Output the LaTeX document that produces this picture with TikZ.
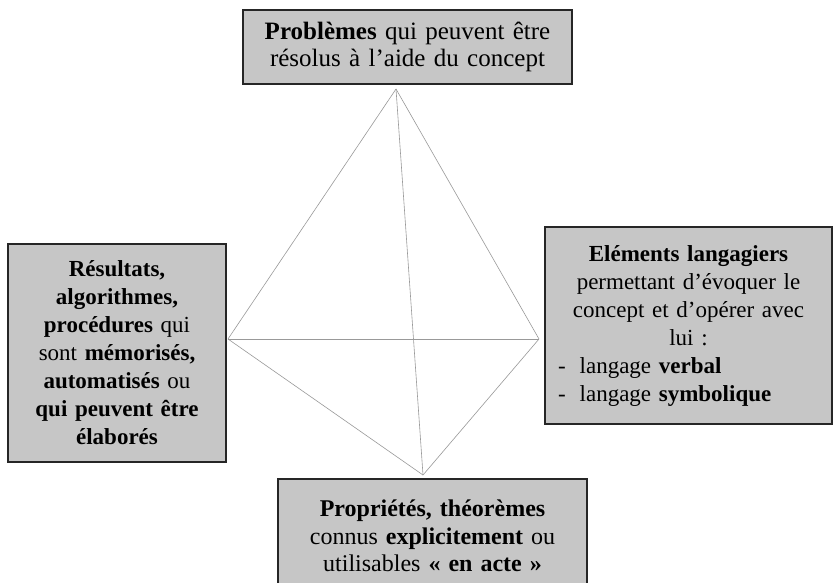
\documentclass[tikz,border=0pt]{standalone}
\usepackage{fontspec}
\setmainfont{Liberation Serif}
\begin{document}
\begin{tikzpicture}[x=1pt,y=-1pt,
  box/.style={draw=black!85, line width=1.3pt, fill=gray!45, align=center, inner sep=0pt, font=\fontsize{23}{28}\selectfont},
  edge/.style={draw=gray!80, line width=0.6pt}]
\useasboundingbox (0,0) rectangle (834,582);
\fill[white] (0,0) rectangle (834,582);
% vertices of the tetrahedron
\coordinate (T) at (396,89);
\coordinate (L) at (228,339);
\coordinate (R) at (539,339);
\coordinate (B) at (423,475);
\draw[edge] (T) -- (L);
\draw[edge] (T) -- (R);
\draw[edge] (T) -- (B);
\draw[edge] (L) -- (R);
\draw[edge] (L) -- (B);
\draw[edge] (R) -- (B);
% boxes
\node[box, font=\fontsize{25}{27}\selectfont, minimum width=329pt, minimum height=74pt, text width=324pt] (top) at (407.5,47)
  {\textbf{Problèmes} qui peuvent être\\résolus à l’aide du concept};
\node[box, minimum width=218pt, minimum height=218pt, text width=212pt] (left) at (117,353)
  {\textbf{Résultats,}\\\textbf{algorithmes,}\\\textbf{procédures} qui\\sont \textbf{mémorisés,}\\\textbf{automatisés} ou\\\textbf{qui peuvent être}\\\textbf{élaborés}};
\node[box, minimum width=287pt, minimum height=197pt, text width=275pt] (right) at (688.5,325.5)
  {\textbf{Eléments langagiers}\\permettant d’évoquer le\\concept et d’opérer avec\\lui :\\
   \makebox[\linewidth][l]{\hspace{7pt}-\hspace{14pt}langage \textbf{verbal}}\\
   \makebox[\linewidth][l]{\hspace{7pt}-\hspace{14pt}langage \textbf{symbolique}}};
\node[box, font=\fontsize{24}{27.5}\selectfont, minimum width=309pt, minimum height=114pt, text width=300pt] (bottom) at (432.5,536)
  {\textbf{Propriétés, théorèmes}\\connus \textbf{explicitement} ou\\utilisables \textbf{« en acte »}};
\end{tikzpicture}
\end{document}
